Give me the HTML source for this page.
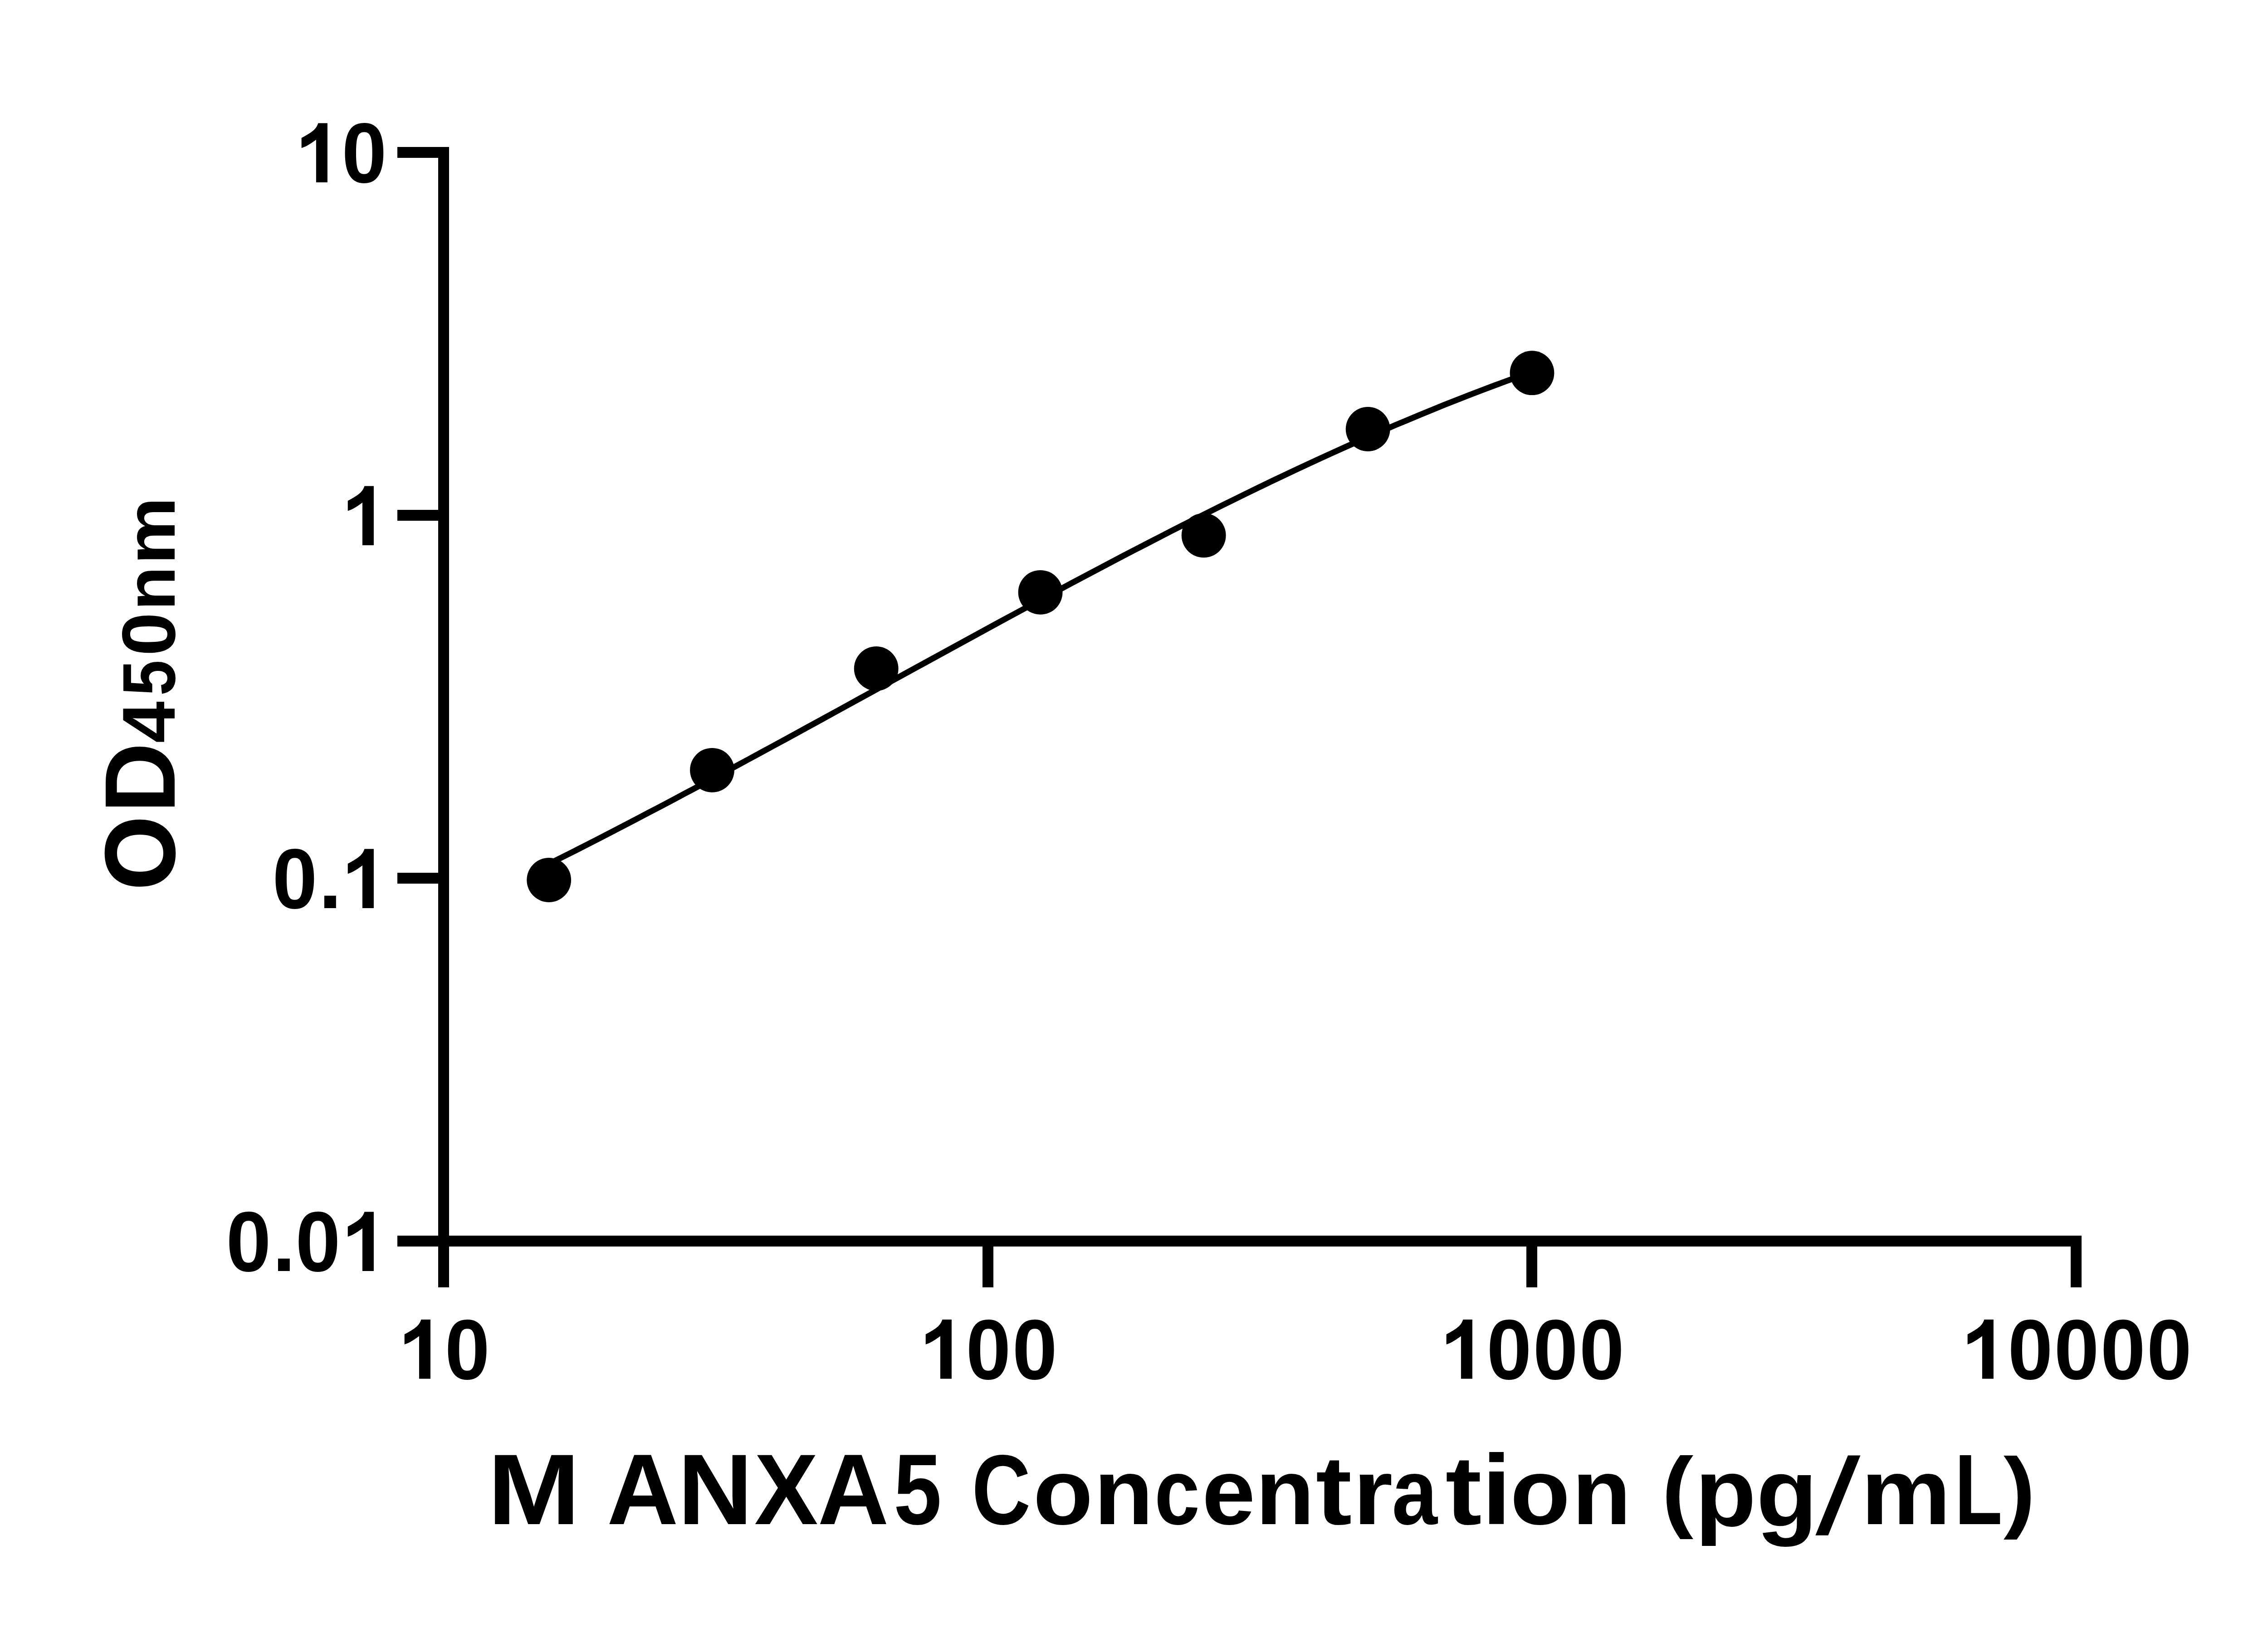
<!DOCTYPE html>
<html><head><meta charset="utf-8"><style>
html,body{margin:0;padding:0;background:#fff;}
svg{display:block;}
text{font-family:"Liberation Sans",sans-serif;font-weight:bold;fill:#000;}
</style></head><body>
<svg width="5130" height="3600" viewBox="0 0 5130 3600">
<defs><path id="one" d="M51.5 -130.6L72 -130.6L72 0L47 0L47 -94.1C38.3 -87.98 26.41 -78.93 14.8 -75.8L14.8 -98C39.4 -111.35 47.32 -117.49 51.5 -130.6Z"/></defs>
<rect width="5130" height="3600" fill="#fff"/>
<g fill="#000">
<rect x="966" y="324" width="24" height="2514"/>
<rect x="876" y="2724" width="3713" height="24"/>
<rect x="876" y="324" width="90" height="24"/>
<rect x="876" y="1124" width="90" height="24"/>
<rect x="876" y="1924" width="90" height="24"/>
<rect x="876" y="2724" width="90" height="24"/>
<rect x="966" y="2748" width="24" height="90"/>
<rect x="2166" y="2748" width="24" height="90"/>
<rect x="3365" y="2748" width="24" height="90"/>
<rect x="4565" y="2748" width="24" height="90"/>
</g>
<polyline points="1210.5,1904.3 1237.9,1890.5 1265.4,1876.7 1292.8,1862.7 1320.2,1848.7 1347.7,1834.5 1375.1,1820.3 1402.5,1806.0 1429.9,1791.6 1457.4,1777.2 1484.8,1762.7 1512.2,1748.1 1539.7,1733.5 1567.1,1718.8 1594.5,1704.0 1621.9,1689.2 1649.4,1674.4 1676.8,1659.5 1704.2,1644.6 1731.7,1629.7 1759.1,1614.7 1786.5,1599.7 1813.9,1584.7 1841.4,1569.6 1868.8,1554.6 1896.2,1539.5 1923.7,1524.5 1951.1,1509.4 1978.5,1494.3 2005.9,1479.3 2033.4,1464.2 2060.8,1449.2 2088.2,1434.2 2115.6,1419.2 2143.1,1404.2 2170.5,1389.2 2197.9,1374.3 2225.4,1359.4 2252.8,1344.6 2280.2,1329.8 2307.6,1315.0 2335.1,1300.3 2362.5,1285.6 2389.9,1271.0 2417.4,1256.5 2444.8,1242.0 2472.2,1227.6 2499.6,1213.3 2527.1,1199.1 2554.5,1184.9 2581.9,1170.8 2609.4,1156.9 2636.8,1143.0 2664.2,1129.2 2691.6,1115.5 2719.1,1102.0 2746.5,1088.5 2773.9,1075.2 2801.3,1061.9 2828.8,1048.9 2856.2,1035.9 2883.6,1023.1 2911.1,1010.4 2938.5,997.8 2965.9,985.5 2993.3,973.2 3020.8,961.1 3048.2,949.2 3075.6,937.4 3103.1,925.9 3130.5,914.4 3157.9,903.2 3185.3,892.1 3212.8,881.2 3240.2,870.5 3267.6,860.0 3295.1,849.7 3322.5,839.5 3349.9,829.6 3377.3,819.8" fill="none" stroke="#000" stroke-width="13" stroke-linejoin="round"/>
<g fill="#000">
<circle cx="1210.2" cy="1940" r="48.9"/>
<circle cx="1570" cy="1697.8" r="48.9"/>
<circle cx="1931.7" cy="1474" r="48.9"/>
<circle cx="2293.6" cy="1305.8" r="48.9"/>
<circle cx="2653.7" cy="1180.3" r="48.9"/>
<circle cx="3015.7" cy="946" r="48.9"/>
<circle cx="3377.5" cy="822.2" r="48.9"/>
</g>
<g font-size="183.5" fill="#000">
<use href="#one" x="649.89" y="402.00"/>
<text transform="translate(802.97,402.00) scale(0.970,1.024)" x="-50.92">0</text>
<use href="#one" x="751.95" y="1202.00"/>
<text transform="translate(649.94,2002.00) scale(0.970,1.024)" x="-50.92">0</text>
<text x="702.46" y="2002.00">.</text>
<use href="#one" x="751.95" y="2002.00"/>
<text transform="translate(547.88,2802.00) scale(0.970,1.024)" x="-50.92">0</text>
<text x="600.41" y="2802.00">.</text>
<text transform="translate(700.92,2802.00) scale(0.970,1.024)" x="-50.92">0</text>
<use href="#one" x="751.95" y="2802.00"/>
<use href="#one" x="876.95" y="3039.50"/>
<text transform="translate(1030.03,3039.50) scale(0.970,1.024)" x="-50.92">0</text>
<use href="#one" x="2025.92" y="3039.50"/>
<text transform="translate(2179.00,3039.50) scale(0.970,1.024)" x="-50.92">0</text>
<text transform="translate(2281.05,3039.50) scale(0.970,1.024)" x="-50.92">0</text>
<use href="#one" x="3173.89" y="3039.50"/>
<text transform="translate(3326.97,3039.50) scale(0.970,1.024)" x="-50.92">0</text>
<text transform="translate(3429.03,3039.50) scale(0.970,1.024)" x="-50.92">0</text>
<text transform="translate(3531.08,3039.50) scale(0.970,1.024)" x="-50.92">0</text>
<use href="#one" x="4322.87" y="3039.50"/>
<text transform="translate(4475.95,3039.50) scale(0.970,1.024)" x="-50.92">0</text>
<text transform="translate(4578.00,3039.50) scale(0.970,1.024)" x="-50.92">0</text>
<text transform="translate(4680.05,3039.50) scale(0.970,1.024)" x="-50.92">0</text>
<text transform="translate(4782.11,3039.50) scale(0.970,1.024)" x="-50.92">0</text>
</g>
<g>
<text transform="translate(1074.7,3359.5) scale(1.1098,1)" font-size="221.1">M</text>
<text transform="translate(1338.0,3359.5) scale(0.9869,1)" font-size="221.1">A</text>
<text transform="translate(1494.2,3359.5) scale(1.0347,1)" font-size="221.1">N</text>
<text transform="translate(1663.1,3359.5) scale(0.9535,1)" font-size="221.1">X</text>
<text transform="translate(1802.6,3359.5) scale(0.9842,1)" font-size="221.1">A</text>
<text transform="translate(1970.1,3359.5) scale(0.8610,1)" font-size="221.1">5</text>
<text transform="translate(2142.5,3359.5) scale(0.8191,1)" font-size="219.3">C</text>
<text transform="translate(2277.4,3359.5) scale(1.0514,1)" font-size="205.6">o</text>
<text transform="translate(2411.8,3359.5) scale(1.0433,1)" font-size="205.2">n</text>
<text transform="translate(2544.9,3359.5) scale(0.8752,1)" font-size="205.6">c</text>
<text transform="translate(2649.9,3359.5) scale(1.0263,1)" font-size="205.6">e</text>
<text transform="translate(2768.0,3359.5) scale(1.0352,1)" font-size="205.2">n</text>
<text transform="translate(2900.8,3359.5) scale(1.1099,1)" font-size="215.2">t</text>
<text transform="translate(2983.1,3359.5) scale(1.0949,1)" font-size="205.2">r</text>
<text transform="translate(3068.6,3359.5) scale(0.8789,1)" font-size="205.6">a</text>
<text transform="translate(3186.6,3359.5) scale(1.1174,1)" font-size="215.2">t</text>
<text transform="translate(3267.0,3359.5) scale(1.0577,1)" font-size="219.4">i</text>
<text transform="translate(3329.2,3359.5) scale(1.0532,1)" font-size="205.6">o</text>
<text transform="translate(3465.8,3359.5) scale(1.0372,1)" font-size="205.2">n</text>
<text transform="translate(3663.5,3352.3) scale(1.0529,1)" font-size="198.7">(</text>
<text transform="translate(3736.8,3364.3) scale(1.0334,1)" font-size="213.5">p</text>
<text transform="translate(3872.0,3364.6) scale(1.0294,1)" font-size="214.4">g</text>
<text transform="translate(4000.9,3379.75) skewX(-12.17)" font-size="236.9">/</text>
<text transform="translate(4102.7,3359.5) scale(1.0839,1)" font-size="205.4">m</text>
<text transform="translate(4309.0,3359.5) scale(0.7843,1)" font-size="220.2">L</text>
<text transform="translate(4417.1,3352.6) scale(1.0577,1)" font-size="199.1">)</text>
</g>
<g>
<text transform="translate(383.5,1961.9) rotate(-90) scale(0.9645,1)" font-size="217.0" stroke="#000" stroke-width="2.70">O</text>
<text transform="translate(384.8,1792.4) rotate(-90) scale(0.9785,1)" font-size="220.1">D</text>
<text transform="translate(384.8,1638.1) rotate(-90) scale(0.9956,1)" font-size="165.8">4</text>
<text transform="translate(384.8,1533.8) rotate(-90) scale(0.8547,1)" font-size="165.3">5</text>
<text transform="translate(384.8,1446.1) rotate(-90) scale(1.0370,1)" font-size="166.5">0</text>
<text transform="translate(384.8,1345.9) rotate(-90) scale(1.0405,1)" font-size="153.6">n</text>
<text transform="translate(384.8,1244.5) rotate(-90) scale(1.0889,1)" font-size="153.6">m</text>
</g>
</svg>
</body></html>
